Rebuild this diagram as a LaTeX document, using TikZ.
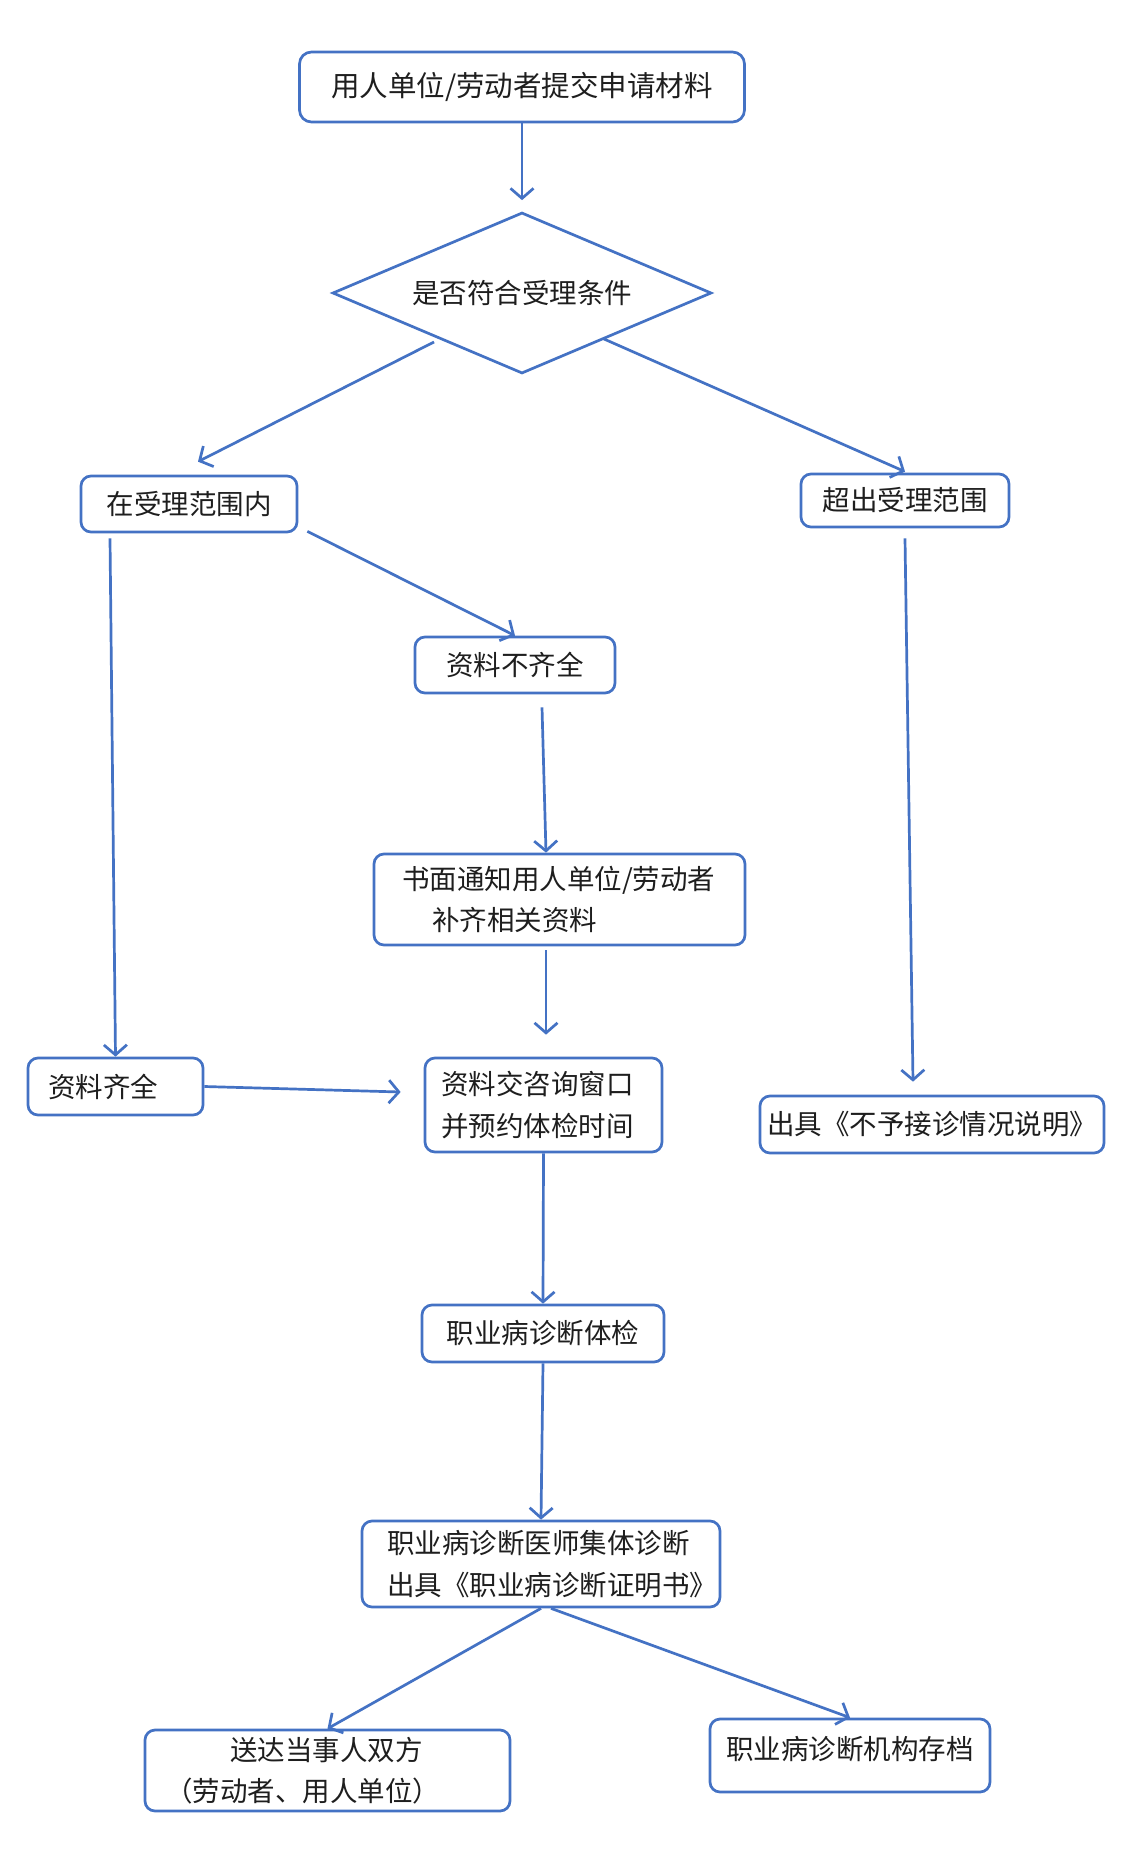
\documentclass[tikz,border=0pt]{standalone}
\usepackage{fontspec}
\newfontfamily\cjk{Noto Sans CJK SC}
\usetikzlibrary{shapes.geometric,arrows.meta}
\definecolor{flowblue}{RGB}{68,114,196}
\definecolor{txt}{RGB}{30,30,30}
\begin{document}
\begin{tikzpicture}[x=1pt,y=-1pt,
  box/.style={draw=flowblue,line width=2.7pt,rounded corners=10pt,inner sep=0pt,
    font=\cjk\fontsize{27.5}{41.5}\selectfont,text=txt},
  dec/.style={draw=flowblue,line width=2.7pt,diamond,aspect=2.35,inner sep=0pt,
    font=\cjk\fontsize{27.5}{41.5}\selectfont,text=txt},
  arr/.style={draw=flowblue,line width=2.7pt,-{Straight Barb[length=10pt,width=23pt]}}]
\fill[white] (0,0) rectangle (1147,1851);
\useasboundingbox (0,0) rectangle (1147,1851);

\node[box,rounded corners=12pt,minimum width=445pt,minimum height=70pt,
  font=\cjk\fontsize{28.5}{40}\selectfont] (n1) at (522,87) {用人单位/劳动者提交申请材料};
\node[dec,minimum width=379pt,minimum height=161pt] (dia) at (522,293) {是否符合受理条件};
\node[box,minimum width=216pt,minimum height=56pt] (zl) at (189,504) {在受理范围内};
\node[box,minimum width=208pt,minimum height=53pt] (cc) at (905,500.5) {超出受理范围};
\node[box,minimum width=200pt,minimum height=56pt] (bq) at (515,665) {资料不齐全};
\node[box,minimum width=371pt,minimum height=91pt,inner xsep=28pt,text width=315pt,align=left]
  (tz) at (559.5,899.5) {书面通知用人单位/劳动者\\\hspace*{30pt}补齐相关资料};
\node[box,minimum width=175pt,minimum height=57pt,inner xsep=20pt,text width=135pt,align=left]
  (qq) at (115.5,1086.5) {资料齐全};
\node[box,minimum width=237pt,minimum height=94pt,inner xsep=16pt,text width=205pt,align=left]
  (jc) at (543.5,1105) {资料交咨询窗口\\并预约体检时间};
\node[box,minimum width=344pt,minimum height=57pt] (bu) at (932,1124.5) {出具《不予接诊情况说明》};
\node[box,minimum width=242pt,minimum height=57pt] (tj) at (543,1333.5) {职业病诊断体检};
\node[box,minimum width=358pt,minimum height=86pt,inner xsep=25pt,text width=308pt,align=left]
  (zd) at (541,1564) {职业病诊断医师集体诊断\\出具《职业病诊断证明书》};
\node[box,minimum width=365pt,minimum height=81pt,inner xsep=20pt,text width=325pt,align=left]
  (sd) at (327.5,1770.5) {\hspace*{65pt}送达当事人双方\\（劳动者、用人单位）};
\node[box,minimum width=280pt,minimum height=73pt,text depth=15pt] (cd) at (850,1755.5) {职业病诊断机构存档};

\draw[arr] (n1.south) -- ([yshift=11pt]dia.north);
\draw[arr] ([xshift=-88pt,yshift=-49pt]dia.center) -- ([xshift=9pt,yshift=13pt]zl.north);
\draw[arr] ([xshift=82pt,yshift=-46pt]dia.center) -- ([yshift=1pt]cc.north);
\draw[arr] ([xshift=9pt,yshift=2pt]zl.south east) -- (bq.north);
\draw[arr] ([xshift=27pt,yshift=-13pt]bq.south) -- ([xshift=-13.5pt]tz.north);
\draw[arr] ([xshift=-13.5pt,yshift=-4pt]tz.south) -- ([xshift=2.5pt,yshift=22pt]jc.north);
\draw[arr] ([xshift=-79pt,yshift=-5pt]zl.south) -- (qq.north);
\draw[arr] (qq.east) -- ([xshift=-23pt,yshift=13pt]jc.west);
\draw[arr] ([yshift=-10pt]cc.south) -- ([xshift=-19pt,yshift=13pt]bu.north);
\draw[arr] (jc.south) -- (tj.north);
\draw[arr] (tj.south) -- (zd.north);
\draw[arr] (zd.south) -- (sd.north);
\draw[arr] ([xshift=10pt]zd.south) -- (cd.north);
\end{tikzpicture}
\end{document}
